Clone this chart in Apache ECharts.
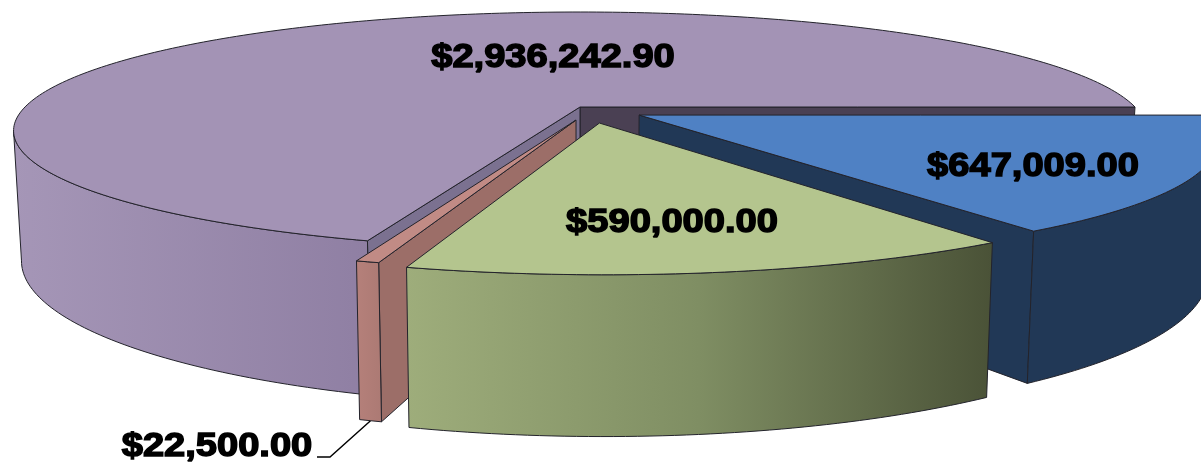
<!DOCTYPE html>
<html>
<head>
<meta charset="utf-8">
<style>
  html, body { margin: 0; padding: 0; background: #fff; }
  #container { width: 1201px; height: 464px; }
</style>
<script src="https://cdn.jsdelivr.net/npm/echarts@6/dist/echarts.min.js"></script>
</head>
<body>
<div id="container"></div>
<script>
var categories = ['Purple', 'Pink', 'Green', 'Blue'];
var values = [2936242.90, 22500.00, 590000.00, 647009.00];

var total = values.reduce(function (a, b) { return a + b; }, 0);

// camera for the tilted disc: u to the right, v towards the viewer, radius 1
var cam = { cx: 580, cy: 107, rx: 555, ry: 114, d: 5, height: 125, foot: 0.986 };

// per slice look, same order as values
var explode = [[0, 0], [-0.007, 0.112], [0.034, 0.137], [0.105, 0.07]];
var drawRank = [0, 2, 3, 1];
var topColor = ['#A393B5', '#C18B85', '#B4C58E', '#4F81C4'];
var wallColor = [
  [[0, '#A596B7'], [1, '#8F7FA3']],
  [[0, '#B5807A'], [1, '#AC7A74']],
  [[0, '#9EAD7B'], [0.5, '#7F8E63'], [1, '#4A5237']],
  [[0, '#213856'], [1, '#213856']]
];
var cutColor = [['#4A4053', '#7B7190'], [null, '#9C6E68'], [null, null], ['#213856', null]];
var labelAt = [[553, 58], [217, 447], [672, 223], [1033, 167]];
var edge = '#23232b';

function project(u, v, low) {
  var s = cam.d / (cam.d - v);
  var k = low ? cam.foot : 1;
  return [
    cam.cx + cam.rx * u * s * k,
    cam.cy + cam.ry * v * s + (low ? cam.height * s : 0)
  ];
}

function rim(i, deg) {
  var a = deg * Math.PI / 180;
  return [explode[i][0] + Math.cos(a), explode[i][1] - Math.sin(a)];
}

function arc(i, from, to, low) {
  var pts = [];
  var n = Math.max(4, Math.ceil(Math.abs(to - from)));
  for (var k = 0; k <= n; k++) {
    var p = rim(i, from + (to - from) * k / n);
    pts.push(project(p[0], p[1], low));
  }
  return pts;
}

function money(v) {
  return '$' + v.toLocaleString('en-US', { minimumFractionDigits: 2, maximumFractionDigits: 2 });
}

function poly(points, fill, z2, stroke) {
  return {
    type: 'polygon',
    z2: z2,
    shape: { points: points },
    style: { fill: fill, stroke: stroke || edge, lineWidth: 1, lineJoin: 'round' }
  };
}

function renderSlice(params, api) {
  var i = params.dataIndex;
  var start = 0;
  for (var j = 0; j < i; j++) start += values[j] / total * 360;
  var end = start + api.value(0) / total * 360;
  var z = drawRank[i] * 10;
  var apexTop = project(explode[i][0], explode[i][1], false);
  var apexLow = project(explode[i][0], explode[i][1], true);
  var kids = [];

  // straight cut faces, only the ones the camera can see
  if (cutColor[i][0]) {
    var a = arc(i, start, start, false)[0], b = arc(i, start, start, true)[0];
    kids.push(poly([apexTop, a, b, apexLow], cutColor[i][0], z));
  }
  if (cutColor[i][1]) {
    var c = arc(i, end, end, false)[0], d = arc(i, end, end, true)[0];
    kids.push(poly([apexTop, c, d, apexLow], cutColor[i][1], z));
  }

  // outer wall, only from where the rim faces the camera
  var wallFrom = i === 0 ? 191.5 : start;
  var wallTo = i === 3 ? Math.min(end, 346) : end;
  var up = arc(i, wallFrom, wallTo, false);
  var down = arc(i, wallFrom, wallTo, true);
  var wallPts = up.concat(down.reverse());
  var xs = wallPts.map(function (p) { return p[0]; });
  var grad = new echarts.graphic.LinearGradient(
    Math.min.apply(null, xs), 0, Math.max.apply(null, xs), 0, wallColor[i].map(function (s) {
      return { offset: s[0], color: s[1] };
    }), true);
  kids.push(poly(wallPts, grad, z + 1));

  // top face
  kids.push(poly([apexTop].concat(arc(i, start, end, false)), topColor[i], z + 2));

  var at = labelAt[i];
  kids.push({
    type: 'text',
    z2: 100,
    x: at[0],
    y: at[1],
    scaleX: 1.12,
    style: {
      text: money(api.value(0)),
      x: 0,
      y: 0,
      fill: '#000',
      stroke: '#000',
      lineWidth: 1.5,
      fontFamily: '"Liberation Sans", Arial, sans-serif',
      fontWeight: 'bold',
      fontSize: 34,
      align: 'center',
      verticalAlign: 'middle'
    }
  });

  // leader for the sliver, its label sits outside the disc
  if (i === 1) {
    var mid = (start + end) / 2;
    var m = rim(i, mid);
    var foot = project(m[0], m[1], true);
    kids.push({
      type: 'polyline',
      z2: 100,
      shape: { points: [foot, [at[0] + 113, at[1] + 10], [at[0] + 100, at[1] + 10]] },
      style: { fill: null, stroke: '#000', lineWidth: 1.4 }
    });
  }

  return { type: 'group', children: kids };
}

var dom = document.getElementById('container');
var myChart = echarts.init(dom);

var option = {
  backgroundColor: '#fff',
  animation: false,
  series: [{
    type: 'custom',
    coordinateSystem: 'none',
    silent: true,
    renderItem: renderSlice,
    data: values.map(function (v, i) { return { name: categories[i], value: [v] }; })
  }]
};

myChart.setOption(option);
</script>
</body>
</html>
